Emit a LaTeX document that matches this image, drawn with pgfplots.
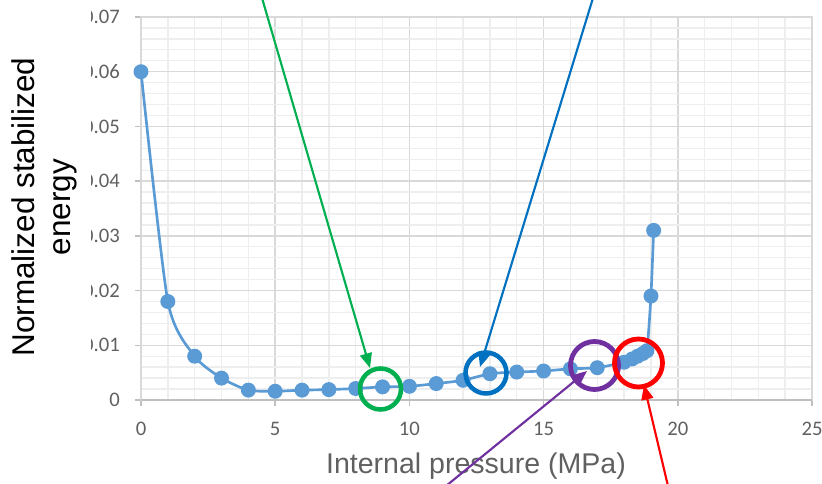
\documentclass[border=0pt]{standalone}
\usepackage{pgfplots}
\pgfplotsset{compat=1.18}
\usepackage{fontspec}
\setmainfont{Liberation Sans}
\newfontfamily\calibri{Carlito}
\usetikzlibrary{arrows.meta}
\definecolor{ser}{RGB}{91,155,213}
\definecolor{majg}{RGB}{217,217,217}
\definecolor{ming}{RGB}{238,238,238}
\definecolor{axg}{RGB}{191,191,191}
\definecolor{txt}{RGB}{96,96,96}
\definecolor{cgreen}{RGB}{0,176,80}
\definecolor{cblue}{RGB}{0,112,192}
\definecolor{cpurple}{RGB}{112,48,160}
\definecolor{cred}{RGB}{255,0,0}
\begin{document}
\begin{tikzpicture}
\begin{axis}[
  at={(0,0)}, anchor=south west,
  scale only axis, width=503.25pt, height=287.25pt,
  xmin=0, xmax=25, ymin=0, ymax=0.07,
  xtick={0,5,10,15,20,25}, xticklabels={0,5,10,15,20,25},
  ytick={0,0.01,0.02,0.03,0.04,0.05,0.06,0.07},
  yticklabels={0,0.01,0.02,0.03,0.04,0.05,0.06,0.07},
  scaled y ticks=false,
  minor x tick num=4, minor y tick num=4,
  grid=both,
  major grid style={color=majg, line width=1.1pt},
  minor grid style={color=ming, line width=1pt},
  axis line style={color=majg, line width=1.1pt},
  tick align=outside, xtick pos=bottom, ytick pos=left,
  major tick length=4.5pt, minor tick length=0pt,
  major tick style={color=axg, line width=1.1pt},
  xticklabel style={font=\calibri\fontsize{15.5}{15.5}\selectfont, text=txt, anchor=base, inner sep=0pt, yshift=-22pt},
  yticklabel style={font=\calibri\fontsize{15.5}{15.5}\selectfont, text=txt, anchor=east, inner sep=0pt, xshift=-11.25pt},
  clip=false,
]
\draw[axg, line width=1.1pt] (axis cs:0,0) -- (axis cs:25,0);
\addplot[ser, line width=2pt, smooth, tension=0.4, mark=*, mark size=4.6pt, mark options={fill=ser, draw=ser}]
coordinates {
(0,0.0600) (1,0.0180) (2,0.0080) (3,0.0040) (4,0.0018) (5,0.0016) (6,0.0018)
(7,0.0019) (8,0.0021) (9,0.0024) (10,0.0025) (11,0.0030) (12,0.0036)
(13,0.0048) (14,0.0051) (15,0.0053) (16,0.0057) (17,0.0059)
(18.0,0.0069) (18.3,0.0075) (18.5,0.0080) (18.7,0.0085) (18.85,0.0090)
(19.0,0.0190) (19.1,0.0310)
};
\end{axis}
\begin{scope}[xshift=-105.75pt, yshift=300pt, x=0.75pt, y=-0.75pt]
\fill[white] (-20,5) rectangle (91,385);
\node[rotate=90, align=center, font=\fontsize{23.6}{27}\selectfont, text=black, inner sep=0pt] at (44,207) {Normalized stabilized\\energy};
\node[font=\fontsize{21.4}{24}\selectfont, text=txt, anchor=base, inner sep=0pt] at (476,474) {Internal pressure (MPa)};
\draw[cgreen, line width=3.4pt] (380.5,389) circle[radius=20.5];
\draw[cblue, line width=3.4pt] (486,373) circle[radius=20.5];
\draw[cpurple, line width=3.6pt] (594.5,365.5) circle[radius=24];
\draw[cred, line width=3.6pt] (638.5,363) circle[radius=24];
\draw[cgreen, line width=1.6pt, -{Triangle[length=11pt, width=9pt]}] (262,-2) -- (370,368);
\draw[cblue, line width=1.6pt, -{Triangle[length=11pt, width=9pt]}] (593,-2) -- (480,367);
\draw[cpurple, line width=1.6pt, -{Triangle[length=11pt, width=9pt]}] (446,486) -- (587,371);
\draw[cred, line width=1.6pt, -{Triangle[length=11pt, width=9pt]}] (668,486) -- (644,385);
\pgfresetboundingbox
\path[use as bounding box] (0,0) rectangle (822,484);
\end{scope}
\end{tikzpicture}
\end{document}
